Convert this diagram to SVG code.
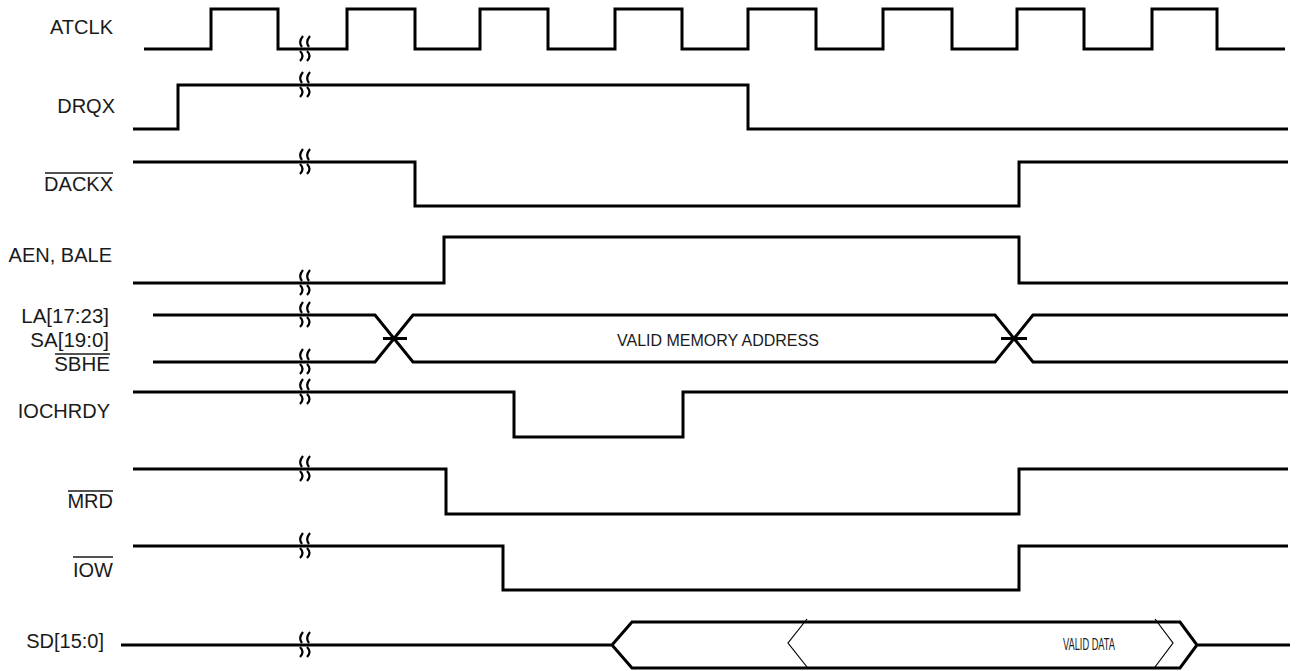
<svg xmlns="http://www.w3.org/2000/svg" xmlns:xlink="http://www.w3.org/1999/xlink" width="1296" height="671" viewBox="0 0 1296 671">
<style>
.sig{fill:none;stroke:#000;stroke-width:3;stroke-linejoin:miter;stroke-linecap:butt}
.thin{fill:none;stroke:#000;stroke-width:1.2}
.lbl{font-family:"Liberation Sans",Arial,sans-serif;font-size:20px;fill:#1a1a1a;text-anchor:end}
.ovl{stroke:#1a1a1a;stroke-width:1.5}
.brkp{fill:none;stroke:#000;stroke-width:2.2}
.inner{font-family:"Liberation Sans",Arial,sans-serif;font-size:16px;fill:#1a1a1a}
</style>
<defs>
<g id="brk">
<path class="brkp" d="M 2,-13 Q -3,-7 1,-2 M -1,2 Q 4,7 -1,12"/>
<path class="brkp" d="M 9,-13 Q 4,-7 8,-2 M 6,2 Q 11,7 6,12"/>
</g>
</defs>
<rect width="1296" height="671" fill="#fff"/>
<g id="atclk">
<text class="lbl" x="113" y="34">ATCLK</text>
<polyline class="sig" points="144,49 211,49 211,9 278,9 278,49 347,49 347,9 415,9 415,49 480,49 480,9 548,9 548,49 615,49 615,9 682,9 682,49 748,49 748,9 816,9 816,49 883,49 883,9 952,9 952,49 1017,49 1017,9 1084,9 1084,49 1152,49 1152,9 1217,9 1217,49 1285,49"/>
<use xlink:href="#brk" x="301" y="49"/>
</g>
<g id="drqx">
<text class="lbl" x="115" y="113">DRQX</text>
<polyline class="sig" points="133,129 178,129 178,85 748,85 748,129 1288,129"/>
<use xlink:href="#brk" x="301" y="85"/>
</g>
<g id="dackx">
<text class="lbl" x="113" y="191">DACKX</text>
<line class="ovl" x1="45" y1="173" x2="113" y2="173"/>
<polyline class="sig" points="133,162 415,162 415,206 1019,206 1019,162 1288,162"/>
<use xlink:href="#brk" x="301" y="162"/>
</g>
<g id="aen">
<text class="lbl" x="112" y="262">AEN, BALE</text>
<polyline class="sig" points="133,283 444,283 444,237 1019,237 1019,283 1288,283"/>
<use xlink:href="#brk" x="301" y="283"/>
</g>
<g id="addr">
<text class="lbl" x="109" y="323" style="font-size:20.5px">LA[17:23]</text>
<text class="lbl" x="109" y="347" style="font-size:20.5px">SA[19:0]</text>
<text class="lbl" x="110" y="371" style="font-size:20.5px">SBHE</text>
<line class="ovl" x1="55" y1="354" x2="110" y2="354"/>
<path class="sig" d="M153,315 H375 L413,362 H995 L1033,315 H1288 M153,362 H375 L413,315 H995 L1033,362 H1288 M383,338.5 H407 M1001,338.5 H1027"/>
<use xlink:href="#brk" x="301" y="315"/>
<use xlink:href="#brk" x="301" y="362"/>
<text class="inner" x="617" y="345.5">VALID MEMORY ADDRESS</text>
</g>
<g id="iochrdy">
<text class="lbl" x="110" y="418">IOCHRDY</text>
<polyline class="sig" points="133,392 514,392 514,437 683,437 683,392 1288,392"/>
<use xlink:href="#brk" x="301" y="392"/>
</g>
<g id="mrd">
<text class="lbl" x="113" y="508">MRD</text>
<line class="ovl" x1="68" y1="491" x2="113" y2="491"/>
<polyline class="sig" points="133,469 446,469 446,514 1019,514 1019,469 1288,469"/>
<use xlink:href="#brk" x="301" y="469"/>
</g>
<g id="iow">
<text class="lbl" x="113" y="577">IOW</text>
<line class="ovl" x1="73" y1="557" x2="113" y2="557"/>
<polyline class="sig" points="133,546 503,546 503,590 1019,590 1019,546 1288,546"/>
<use xlink:href="#brk" x="301" y="546"/>
</g>
<g id="sd">
<text class="lbl" x="104" y="648">SD[15:0]</text>
<path class="sig" d="M121,645 H612 L632,622 H1180 L1197,645 L1180,668 H632 L612,645 Z M1197,645 H1290"/>
<path class="thin" d="M807,619 L788,643 L807,667 M1155,619 L1173,643 L1155,667"/>
<use xlink:href="#brk" x="301" y="645"/>
<text class="inner" x="1063" y="650" textLength="52" lengthAdjust="spacingAndGlyphs" style="font-size:17px">VALID DATA</text>
</g>
</svg>
